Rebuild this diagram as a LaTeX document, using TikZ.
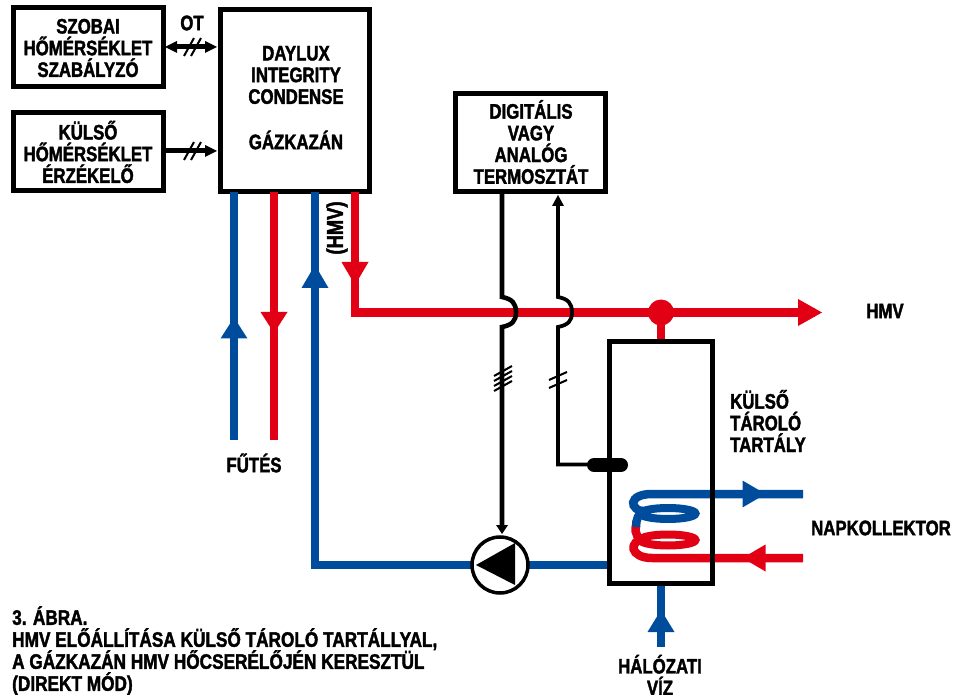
\documentclass[tikz,border=0pt]{standalone}
\usepackage{fontspec}
\setmainfont{Liberation Sans}[FakeStretch=0.8,BoldFeatures={FakeStretch=0.8,FakeBold=1.8}]
\newfontfamily\captfont{Liberation Sans}[FakeStretch=0.82,BoldFeatures={FakeStretch=0.82,FakeBold=1.8}]
\definecolor{pred}{RGB}{226,0,20}
\definecolor{pblue}{RGB}{0,76,156}
\tikzset{
  x=1pt,y=-1pt,
  lbl/.style={font=\fontsize{21}{21.7}\selectfont\bfseries,align=center,inner sep=0pt,text=black},
  capt/.style={font=\captfont\fontsize{21}{22}\selectfont\bfseries,align=left,inner sep=0pt,anchor=north west},
  thickbox/.style={draw=black,line width=5pt,inner sep=0pt,minimum width=150pt},
  redpipe/.style={draw=pred,line width=8.7pt},
  bluepipe/.style={draw=pblue,line width=8.7pt},
  wire/.style={draw=black,line width=3.8pt},
  wirethick/.style={draw=black,line width=4.6pt},
  buswire/.style={draw=black,line width=5pt},
  tick/.style={draw=black,line width=2pt},
}
\newcommand{\tri}[5]{\fill[#1,shift={(#2,#3)},rotate=#4] (#5,0) -- (-#5,-13.5) -- (-#5,13.5) -- cycle;}
\begin{document}
\begin{tikzpicture}
\useasboundingbox (0,0) rectangle (954,695);
% boxes
\node[thickbox,minimum height=79pt] (room) at (88,47.5) {};
\node[thickbox,minimum height=78pt] (ext) at (88,152) {};
\node[thickbox,minimum width=149pt,minimum height=182pt] (boiler) at (294.5,101) {};
\node[thickbox,minimum width=150pt,minimum height=98pt] (thermo) at (530.5,142.5) {};
% coordinates
\coordinate (b1) at (234,192);  \coordinate (b1e) at (234,440);
\coordinate (r1) at (274,192);  \coordinate (r1e) at (274,440);
\coordinate (b2) at (315,192);  \coordinate (b2c) at (315,565);
\coordinate (r2) at (355,192);  \coordinate (r2c) at (355,312.5);
\coordinate (hmvend) at (815,312.5);
\coordinate (tee) at (661,312.5);
\coordinate (w1) at (502,192); \coordinate (w1a) at (502,297); \coordinate (w1b) at (502,327); \coordinate (w1e) at (502,534);
\coordinate (w2) at (558,195); \coordinate (w2a) at (558,297); \coordinate (w2b) at (558,327); \coordinate (w2c) at (558,464.5); \coordinate (sens) at (608,464.5);
\coordinate (tanktop) at (661,342);
\coordinate (wat) at (661,647); \coordinate (watT) at (661,583);
\coordinate (sol1) at (803,494);
\coordinate (sol2) at (803,558);
\coordinate (pumpc) at (500,565);
\coordinate (tankl) at (609,565);
% pipes
\draw[bluepipe] (b1) -- (b1e);
\draw[redpipe] (r1) -- (r1e);
\draw[bluepipe] (b2) -- (b2c) -- (pumpc) -- (tankl);
\draw[redpipe] (r2) -- (r2c) -- (hmvend);
\draw[redpipe] (tee) -- (tanktop);
\fill[pred] (tee) circle (13);
\draw[bluepipe] (wat) -- (watT);
\tri{pblue}{234}{328}{90}{10.5}
\tri{pred}{274}{322.5}{-90}{10.5}
\tri{pblue}{315}{276.5}{90}{11.5}
\tri{pred}{355}{273.5}{-90}{11.5}
\tri{pred}{810}{312.5}{0}{12}
\tri{pblue}{661}{621}{90}{11}
% coil
\draw[pred,line width=8.5pt] (sol2) -- (652,558) .. controls (630,558) and (627,541) .. (646,538);
\draw[pred,line width=8pt] (668,540) ellipse (27.5 and 5.5);
\draw[pred,line width=8.5pt] (636,526) .. controls (634,533) and (638,540) .. (646,542);
\draw[pblue,line width=8.5pt] (sol1) -- (652,494) .. controls (628,494) and (628,510) .. (646,512);
\draw[pblue,line width=8pt] (668,513.5) ellipse (27.5 and 5.5);
\draw[pblue,line width=8.5pt] (645,510) .. controls (638,513) and (636,520) .. (636,527);
\tri{pblue}{754}{494}{0}{11.5}
\tri{pred}{754}{558}{180}{11.5}
% tank
\node[thickbox,minimum width=103pt,minimum height=242pt] (tank) at (660.5,462.5) {};
% wires
\draw[wirethick] (w1) -- (w1a) .. controls (512,299) and (516,303) .. (516,312.5) .. controls (516,321) and (512,325) .. (w1b) -- (502,525);
\fill (w1e) -- (496,525) -- (508,525) -- cycle;
\draw[wire] (558,204) -- (w2a) .. controls (568,299) and (572,303) .. (572,312.5) .. controls (572,321) and (568,325) .. (w2b) -- (w2c) -- (sens);
\fill (w2) -- (552,206) -- (564,206) -- cycle;
\draw[line width=14pt,line cap=round,black] (594,465) -- (621,465);
% ticks
\foreach \y in {371,376,381,386}{\draw[tick] (494,\y+5) -- (512,\y-5);}
\foreach \y in {376,384}{\draw[tick] (549,\y+4) -- (567,\y-4);}
\draw[buswire] (172,47) -- (210,47);
\fill (217,47) -- (205,41) -- (205,53) -- cycle;
\fill (165,47) -- (177,41) -- (177,53) -- cycle;
\draw[buswire] (165,151) -- (210,151);
\fill (217,151) -- (205,145) -- (205,157) -- cycle;
\foreach \y in {47,151}{\foreach \x in {189,196}{\draw[tick] (\x-5,\y+9) -- (\x+5,\y-9);}}
% pump
\draw[black,line width=3.5pt,fill=white] (pumpc) circle (28);
\fill (476,565) -- (515,543) -- (515,585) -- cycle;
% labels
\node[lbl] (t1) at (88,48) {SZOBAI\\HŐMÉRSÉKLET\\SZABÁLYZÓ};
\node[lbl] (t2) at (88,152) {KÜLSŐ\\HŐMÉRSÉKLET\\ÉRZÉKELŐ};
\node[lbl] (t3) at (192,23) {OT};
\node[lbl] (t4) at (296,75) {DAYLUX\\INTEGRITY\\CONDENSE};
\node[lbl] (t5) at (296,140) {GÁZKAZÁN};
\node[lbl] (t6) at (531,142) {DIGITÁLIS\\VAGY\\ANALÓG\\TERMOSZTÁT};
\node[lbl,font=\fontsize{23}{24}\selectfont\bfseries,rotate=90] (t7) at (337,228) {(HMV)};
\node[lbl] (t8) at (885,311) {HMV};
\node[lbl,align=left,anchor=west] (t9) at (730,421) {KÜLSŐ\\TÁROLÓ\\TARTÁLY};
\node[lbl] (t10) at (881,528) {NAPKOLLEKTOR};
\node[lbl] (t11) at (254,463) {FŰTÉS};
\node[lbl] (t12) at (660,675) {HÁLÓZATI\\VÍZ};
\node[capt] (t13) at (12,606) {3. ÁBRA.\\HMV ELŐÁLLÍTÁSA KÜLSŐ TÁROLÓ TARTÁLLYAL,\\A GÁZKAZÁN HMV HŐCSERÉLŐJÉN KERESZTÜL\\(DIREKT MÓD)};
\end{tikzpicture}
\end{document}
